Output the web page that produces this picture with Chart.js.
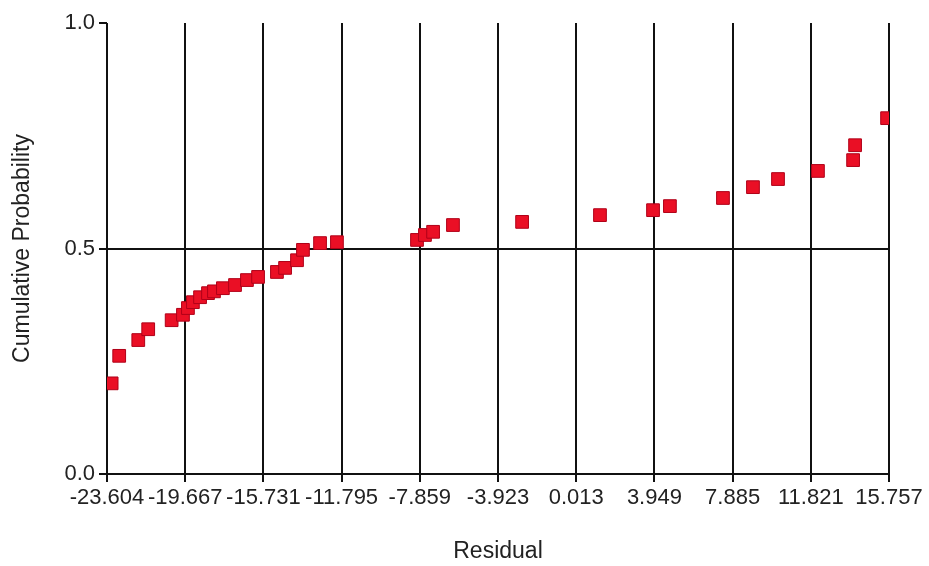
<!DOCTYPE html>
<html>
<head>
<meta charset="utf-8">
<script src="https://cdn.jsdelivr.net/npm/chart.js@4/dist/chart.umd.min.js"></script>
<style>
  html, body { margin: 0; padding: 0; background: #fff; }
  #wrap { width: 929px; height: 566px; }
</style>
</head>
<body>
<div id="wrap"><canvas id="probChart" width="929" height="566"></canvas></div>
<script>
// 잔차 (x) 값
const residuals = [
  -23.37, -22.99, -22.03, -21.53, -20.35, -19.78, -19.53, -19.28, -18.92, -18.52,
  -18.22, -17.77, -17.16, -16.56, -16.00, -15.05, -14.64, -14.04, -13.74, -12.88,
  -12.03, -8.00, -7.60, -7.19, -6.19, -2.71, 1.21, 3.88, 4.73, 7.40,
  8.91, 10.17, 12.18, 13.95, 14.05, 15.66
];

// 누적 확률 (y) 값
const cumProbs = [
  0.201, 0.262, 0.297, 0.321, 0.341, 0.353, 0.368, 0.381, 0.392, 0.401,
  0.405, 0.412, 0.419, 0.430, 0.437, 0.448, 0.457, 0.474, 0.497, 0.512,
  0.514, 0.519, 0.530, 0.537, 0.552, 0.559, 0.574, 0.585, 0.594, 0.612,
  0.636, 0.654, 0.672, 0.696, 0.729, 0.789
];

// 축 눈금
const xTickValues = [-23.604, -19.667, -15.731, -11.795, -7.859, -3.923, 0.013, 3.949, 7.885, 11.821, 15.757];
const xTickLabels = ['-23.604', '-19.667', '-15.731', '-11.795', '-7.859', '-3.923', '0.013', '3.949', '7.885', '11.821', '15.757'];
const yTickValues = [0, 0.5, 1.0];
const yTickLabels = ['0.0', '0.5', '1.0'];

const points = residuals.map((x, i) => ({ x: x, y: cumProbs[i] }));

const textColor = '#222';
const gridColor = '#111';
const fontFamily = '"Liberation Sans", Arial, sans-serif';

new Chart(document.getElementById('probChart'), {
  type: 'scatter',
  data: {
    datasets: [{
      label: 'Residual',
      data: points,
      pointStyle: 'rect',
      pointRadius: 9,
      pointHoverRadius: 9,
      backgroundColor: '#ea0f25',
      borderColor: '#b00018',
      borderWidth: 1
    }]
  },
  options: {
    responsive: false,
    animation: false,
    events: [],
    layout: {
      padding: { top: 23, right: 40, left: 0, bottom: 0 }
    },
    plugins: {
      legend: { display: false },
      tooltip: { enabled: false }
    },
    scales: {
      x: {
        type: 'linear',
        min: -23.604,
        max: 15.757,
        afterBuildTicks: (scale) => {
          scale.ticks = xTickValues.map(v => ({ value: v }));
        },
        afterFit: (scale) => { scale.height = 92; },
        border: { display: false },
        grid: {
          color: gridColor,
          tickColor: gridColor,
          lineWidth: 2,
          tickLength: 8
        },
        ticks: {
          autoSkip: false,
          maxRotation: 0,
          padding: 3,
          color: textColor,
          font: { family: fontFamily, size: 22 },
          callback: (value, index) => xTickLabels[index]
        },
        title: {
          display: true,
          text: 'Residual',
          color: textColor,
          font: { family: fontFamily, size: 23 },
          padding: { top: 0, bottom: 1 }
        }
      },
      y: {
        type: 'linear',
        min: 0,
        max: 1,
        afterBuildTicks: (scale) => {
          scale.ticks = yTickValues.map(v => ({ value: v }));
        },
        afterFit: (scale) => { scale.width = 107; },
        border: { display: false },
        grid: {
          // 1.0 에는 가로선 없음, 눈금 표시만
          color: (ctx) => (ctx.tick && ctx.tick.value === 1 ? 'rgba(0,0,0,0)' : gridColor),
          tickColor: gridColor,
          lineWidth: 2,
          tickLength: 8
        },
        ticks: {
          padding: 4,
          color: textColor,
          font: { family: fontFamily, size: 22 },
          callback: (value, index) => yTickLabels[index]
        },
        title: {
          display: true,
          text: 'Cumulative Probability',
          color: textColor,
          font: { family: fontFamily, size: 23 },
          padding: { top: 9, bottom: 0 }
        }
      }
    }
  }
});
</script>
</body>
</html>
